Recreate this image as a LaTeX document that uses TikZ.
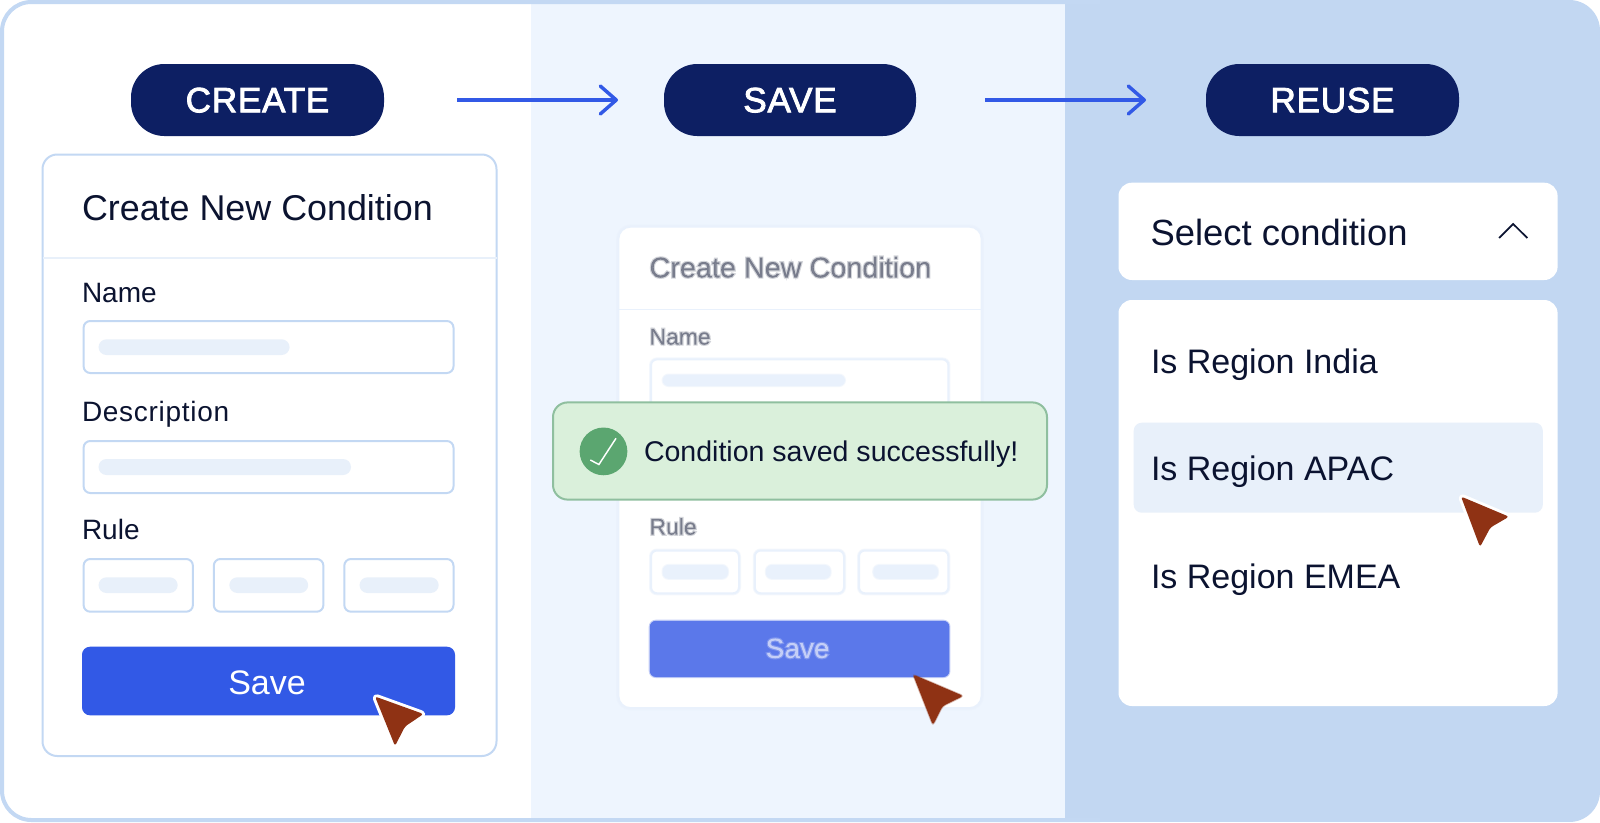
\documentclass[tikz,border=0pt]{standalone}
\usepackage{fontspec}
\setmainfont{Liberation Sans}
\usetikzlibrary{arrows.meta,shapes.geometric}
\definecolor{ink}{HTML}{0B1330}
\definecolor{navy}{HTML}{0D1F63}
\definecolor{royal}{HTML}{3259E6}
\definecolor{softroyal}{HTML}{5B78EA}
\definecolor{edge}{HTML}{C3D8F3}
\definecolor{softedge}{HTML}{E9F1FC}
\definecolor{bar}{HTML}{E8F0FA}
\definecolor{palebg}{HTML}{EEF5FE}
\definecolor{bluebg}{HTML}{C2D7F2}
\definecolor{toastfill}{HTML}{DAF0DB}
\definecolor{toastedge}{HTML}{8FBF9F}
\definecolor{okgreen}{HTML}{5BA670}
\definecolor{rust}{HTML}{8F3214}
\newcommand\medtext[1]{\special{pdf:code 2 Tr 0.6 w}#1\special{pdf:code 0 Tr}}
\tikzset{
  basebox/.style={rectangle,inner sep=0pt,outer sep=0pt},
  pilltag/.style={basebox,fill=navy,text=white,rounded corners=25pt,text depth=0pt,font=\fontsize{26.4}{30}\selectfont\addfontfeature{LetterSpace=2}},
  cardbox/.style={basebox,fill=white,draw=edge,line width=1.5pt,rounded corners=11pt},
  softcard/.style={basebox,fill=white,preaction={draw=softedge,draw opacity=.6,line width=3.4pt,rounded corners=9pt},draw=softedge,line width=1.3pt,rounded corners=9pt},
  fieldbox/.style={basebox,fill=white,draw=edge,line width=1.5pt,rounded corners=5pt},
  softfield/.style={basebox,fill=white,preaction={draw=softedge,draw opacity=.5,line width=3pt,rounded corners=4.5pt},draw=softedge,line width=1.5pt,rounded corners=4.5pt},
  barfill/.style={basebox,fill=bar,rounded corners=6pt},
  softbar/.style={basebox,fill=softedge,preaction={draw=softedge,draw opacity=.5,line width=1.6pt,rounded corners=4.5pt},rounded corners=4.5pt},
  savebtn/.style={basebox,fill=royal,rounded corners=6pt},
  softbtn/.style={basebox,fill=softroyal,preaction={draw=softroyal,draw opacity=.35,line width=1.6pt,rounded corners=4.5pt},rounded corners=4.5pt},
  whitebox/.style={basebox,fill=white,rounded corners=10pt},
  hoverbox/.style={basebox,fill=bar,rounded corners=6pt},
  lbl/.style={inner sep=0pt,outer sep=0pt,anchor=base west,text=ink},
  flowarrow/.style={draw=royal,line width=3pt,-{Straight Barb[length=12pt,width=21pt,round,line width=2.6pt]}},
  cursorshape/.style={fill=rust,rounded corners=2pt},
  softcursor/.style={fill=rust,draw=rust,draw opacity=.35,line width=1.2pt,rounded corners=2pt},
  cursorhalo/.style={draw=white,line width=4.4pt,line join=round,rounded corners=2pt},
}
\newcommand\rr[7]{%
  \pgfmathsetmacro\rw{(#5-#3)*.75}\pgfmathsetmacro\rh{(#6-#4)*.75}%
  \node[#1,minimum width=\rw pt,minimum height=\rh pt] (#2) at ({(#3+#5)/2},{(#4+#6)/2}) {#7};}
% one-copy soft text: translucent fill with a wider, fainter stroke
\newcommand\softtext[3]{\pgfsetfillopacity{#1}\pgfsetstrokeopacity{#2}\special{pdf:code 2 Tr 1.7 w}#3\special{pdf:code 0 Tr}}
\begin{document}
\begin{tikzpicture}[x=0.75pt,y=-0.75pt]
\useasboundingbox (0,0) rectangle (1600,822);
\begin{scope}
\clip[rounded corners=23pt] (0,0) rectangle (1600,822);
\fill[white] (0,0) rectangle (531,822);
\fill[palebg] (531,0) rectangle (1065,822);
\fill[bluebg] (1065,0) rectangle (1600,822);
\end{scope}
\draw[edge,line width=3pt,rounded corners=22pt] (1100,820) -- (2,820) -- (2,2) -- (1100,2);

% pills
\rr{pilltag}{create}{131}{64}{384}{136}{\medtext{CREATE}}
\rr{pilltag}{save}{664}{64}{916}{136}{\medtext{SAVE}}
\rr{pilltag}{reuse}{1206}{64}{1459}{136}{\medtext{REUSE}}
\draw[flowarrow,shorten <=73pt*.75,shorten >=46pt*.75] (create) -- (save);
\draw[flowarrow,shorten <=69pt*.75,shorten >=60pt*.75] (save) -- (reuse);

% left card
\rr{cardbox}{cardA}{42.5}{154.5}{496.5}{756}{}
\draw[bar,line width=1.5pt] (cardA.west |- 0,257.7) -- (cardA.east |- 0,257.7);
\node[lbl,font=\fontsize{26.9}{30}\selectfont] (titleA) at (82,220) {Create New Condition};
\node[lbl,font=\fontsize{21}{25}\selectfont] (nameA) at (82,302) {Name};
\rr{fieldbox}{fieldA}{83.6}{321}{453.5}{373}{}
\rr{barfill}{barA}{98.5}{339.3}{289.6}{355}{}
\node[lbl,font=\fontsize{21}{25}\selectfont\addfontfeature{LetterSpace=2.6}] (descA) at (82,421.5) {Description};
\rr{fieldbox}{fieldB}{83.6}{441}{453.5}{493}{}
\rr{barfill}{barB}{98.5}{459}{351}{475}{}
\node[lbl,font=\fontsize{21}{25}\selectfont] (ruleA) at (82,539.3) {Rule};
\rr{fieldbox}{ruleAa}{83.6}{559}{192.9}{611.7}{}
\rr{fieldbox}{ruleAb}{213.8}{559}{323.4}{611.7}{}
\rr{fieldbox}{ruleAc}{344.3}{559}{453.5}{611.7}{}
\rr{barfill}{barAa}{98.5}{577.3}{177.7}{593}{}
\rr{barfill}{barAb}{229.3}{577.3}{308.2}{593}{}
\rr{barfill}{barAc}{359.5}{577.3}{438.7}{593}{}
\rr{savebtn}{btnA}{82}{646.7}{455}{715.3}{}
\node[lbl,anchor=base,text=white,font=\fontsize{25.5}{30}\selectfont] (saveA) at (267,694) {Save};
\draw[cursorhalo] (375,696.5) -- (423.5,714) -- (405,726.5) -- (395,746) -- cycle;
\fill[cursorshape] (375,696.5) -- (423.5,714) -- (405,726.5) -- (395,746) -- cycle;

% middle card
\rr{softcard}{cardB}{618.5}{226.8}{981.5}{708}{}
\draw[softedge,line width=1.3pt] (cardB.west |- 0,309.5) -- (cardB.east |- 0,309.5);
\node[lbl,font=\fontsize{21.6}{25}\selectfont] (titleB) at (649.5,277.5) {\softtext{.45}{.18}{Create New Condition}};
\node[lbl,font=\fontsize{17.2}{20}\selectfont] (nameB) at (649.5,344.6) {\softtext{.45}{.18}{Name}};
\rr{softfield}{fieldC}{651}{359.4}{948.4}{430}{}
\rr{softbar}{barC}{662.6}{374.6}{845}{386}{}
\node[lbl,font=\fontsize{17.2}{20}\selectfont] (ruleB) at (649.5,534.7) {\softtext{.45}{.18}{Rule}};
\rr{softfield}{ruleBa}{651}{550.5}{739}{593.3}{}
\rr{softfield}{ruleBb}{754.8}{550.5}{844}{593.3}{}
\rr{softfield}{ruleBc}{859}{550.5}{948.4}{593.3}{}
\rr{softbar}{barBa}{662.6}{565}{728}{578.8}{}
\rr{softbar}{barBb}{765.9}{565}{830.6}{578.8}{}
\rr{softbar}{barBc}{873.3}{565}{938}{578.8}{}
\rr{softbtn}{btnB}{649.8}{620.8}{949.4}{677}{}
\node[lbl,anchor=base,text=white,font=\fontsize{21}{25}\selectfont] (saveB) at (797.6,658) {\softtext{.55}{.22}{Save}};
\fill[softcursor] (913,674.5) -- (963.2,695.9) -- (942.5,706.2) -- (932.9,725.1) -- cycle;

% toast
\rr{basebox,fill=toastfill,draw=toastedge,line width=1.5pt,rounded corners=11pt}{toast}{553}{402.4}{1047}{499.6}{}
\node[circle,fill=okgreen,inner sep=0pt,minimum size=35.8pt] (okdot) at (603.5,451.4) {};
\draw[white,line width=1.1pt] (590.3,460) -- (598.9,464.5) -- (616,438.3);
\node[lbl,font=\fontsize{21.4}{25}\selectfont] (toasttext) at (644,461.7) {Condition saved successfully!};

% right column
\rr{whitebox}{selectbox}{1118.5}{182.7}{1557.6}{280}{}
\node[lbl,font=\fontsize{27.3}{32}\selectfont] (selecttext) at (1150.6,245) {Select condition};
\draw[ink,line width=1.3pt] (1499,238) -- (1513.2,224) -- (1527.3,238);
\rr{whitebox}{listbox}{1118.5}{300}{1557.6}{706}{}
\rr{hoverbox}{hover}{1133.7}{422.7}{1542.8}{512.7}{}
\node[lbl,font=\fontsize{25.5}{30}\selectfont] (india) at (1151,373.3) {Is Region India};
\node[lbl,font=\fontsize{25.5}{30}\selectfont] (apac) at (1151,480) {Is Region APAC};
\node[lbl,font=\fontsize{25.5}{30}\selectfont] (emea) at (1151,588) {Is Region EMEA};
\draw[cursorhalo] (1461,496.5) -- (1509,516.7) -- (1490.4,527.5) -- (1480,547) -- cycle;
\fill[cursorshape] (1461,496.5) -- (1509,516.7) -- (1490.4,527.5) -- (1480,547) -- cycle;
\end{tikzpicture}
\end{document}
